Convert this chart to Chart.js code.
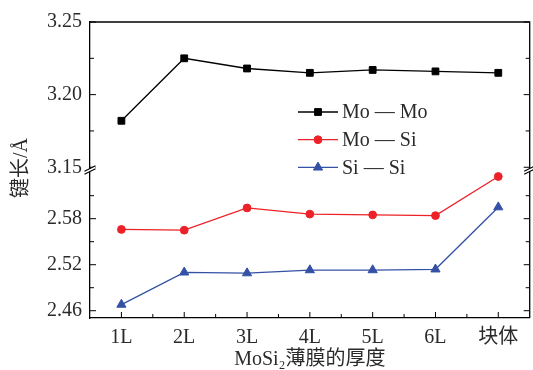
<!DOCTYPE html>
<html>
<head>
<meta charset="utf-8">
<script src="https://cdn.jsdelivr.net/npm/chart.js"></script>
<style>
  html, body { margin: 0; padding: 0; background: #fff; overflow: hidden; }
  #wrap { width: 536px; height: 370px; }
</style>
</head>
<body>
<div id="wrap"><canvas id="bond-chart" width="536" height="370"></canvas></div>
<script>
const categories = ["1L", "2L", "3L", "4L", "5L", "6L", "块体"];
const moMo = [3.182, 3.225, 3.218, 3.215, 3.217, 3.216, 3.215];
const moSi = [2.566, 2.565, 2.594, 2.586, 2.585, 2.584, 2.635];
const siSi = [2.468, 2.510, 2.509, 2.513, 2.513, 2.514, 2.595];
const upperTicks = [3.15, 3.175, 3.20, 3.225, 3.25];
const lowerTicks = [2.46, 2.49, 2.52, 2.55, 2.58, 2.61];

const FONT = '"Liberation Serif", "DejaVu Serif", "Times New Roman", serif, "Noto Sans CJK SC"';
const TEXT = "#2a2a2a";
const tickFont = { family: FONT, size: 20 };

// inward ticks, top/right frame, axis break marks, y title and legend
const framePlugin = {
  id: "frame",
  afterDraw(chart) {
    const { ctx, chartArea: a, scales } = chart;
    ctx.save();
    ctx.strokeStyle = "#000";
    ctx.lineWidth = 1.3;
    ctx.beginPath();
    ctx.moveTo(a.left, a.top);
    ctx.lineTo(a.right, a.top);
    ctx.lineTo(a.right, a.bottom);
    ctx.stroke();

    ctx.lineWidth = 1;
    [scales.yTop, scales.yBot].forEach((s) => {
      s.ticks.forEach((t) => {
        const y = s.getPixelForValue(t.value);
        const len = t.label ? 6 : 4;
        ctx.beginPath();
        ctx.moveTo(a.left, y);
        ctx.lineTo(a.left + len, y);
        ctx.moveTo(a.right, y);
        ctx.lineTo(a.right - len, y);
        ctx.stroke();
      });
    });

    const xs = scales.x;
    for (let i = 0; i < categories.length; i++) {
      const x = xs.getPixelForValue(i);
      ctx.beginPath();
      ctx.moveTo(x, a.bottom);
      ctx.lineTo(x, a.bottom - 6);
      ctx.stroke();
      if (i > 0) {
        const xm = xs.getPixelForValue(i - 0.5);
        ctx.beginPath();
        ctx.moveTo(xm, a.bottom);
        ctx.lineTo(xm, a.bottom - 4);
        ctx.stroke();
      }
    }

    // break marks
    const by = scales.yBot.top + 1;
    [a.left, a.right].forEach((bx) => {
      const g = 1.5;
      ctx.fillStyle = "#fff";
      ctx.beginPath();
      ctx.moveTo(bx - 5.5, by + 2.8 - g);
      ctx.lineTo(bx + 5.5, by - 2.8 - g);
      ctx.lineTo(bx + 5.5, by - 2.8 + g);
      ctx.lineTo(bx - 5.5, by + 2.8 + g);
      ctx.closePath();
      ctx.fill();
      ctx.lineWidth = 1.1;
      ctx.beginPath();
      ctx.moveTo(bx - 5.5, by + 2.8 - g);
      ctx.lineTo(bx + 5.5, by - 2.8 - g);
      ctx.moveTo(bx - 5.5, by + 2.8 + g);
      ctx.lineTo(bx + 5.5, by - 2.8 + g);
      ctx.stroke();
    });

    // y title
    ctx.save();
    ctx.translate(22, 168);
    ctx.rotate(-Math.PI / 2);
    ctx.fillStyle = TEXT;
    ctx.font = "20px " + FONT;
    ctx.textAlign = "center";
    ctx.textBaseline = "middle";
    ctx.fillText("键长/Å", 0, 0);
    ctx.restore();

    // legend
    chart.data.datasets.forEach((ds, i) => {
      const y = 112 + i * 27.7;
      ctx.strokeStyle = ds.borderColor;
      ctx.lineWidth = 1.3;
      ctx.beginPath();
      ctx.moveTo(298, y);
      ctx.lineTo(338, y);
      ctx.stroke();
      ctx.fillStyle = ds.backgroundColor;
      ctx.strokeStyle = ds.backgroundColor;
      ctx.lineWidth = ds.pointBorderWidth;
      Chart.helpers.drawPoint(ctx, { pointStyle: ds.pointStyle, radius: ds.pointRadius, borderWidth: ds.pointBorderWidth, rotation: 0 }, 318, y);
      ctx.fillStyle = TEXT;
      ctx.font = "20px " + FONT;
      ctx.textAlign = "left";
      ctx.textBaseline = "middle";
      ctx.fillText(ds.label, 342, y + 1);
    });
    ctx.restore();
  },
};

const yAxis = (ticksList, min, max, weight) => ({
  type: "linear",
  position: "left",
  stack: "bond",
  stackWeight: weight,
  min: min,
  max: max,
  afterBuildTicks: (s) => {
    s.ticks = ticksList.map((v) => ({ value: v }));
  },
  afterFit: (s) => {
    s.width = 90;
  },
  grid: { display: false, drawTicks: false },
  border: { display: true, color: "#000", width: 1.3 },
  ticks: {
    autoSkip: false,
    padding: 8,
    color: TEXT,
    font: tickFont,
    callback: (v, i) => (i % 2 === 0 ? v.toFixed(2) : ""),
  },
});

new Chart(document.getElementById("bond-chart"), {
  type: "line",
  data: {
    labels: categories,
    datasets: [
      {
        label: "Mo — Mo",
        data: moMo,
        yAxisID: "yTop",
        borderColor: "#000",
        backgroundColor: "#000",
        pointStyle: "rect",
        pointRadius: 4.8,
        pointBorderWidth: 1,
        borderWidth: 1.3,
      },
      {
        label: "Mo — Si",
        data: moSi,
        yAxisID: "yBot",
        borderColor: "#ec2228",
        backgroundColor: "#ec2228",
        pointStyle: "circle",
        pointRadius: 3.9,
        pointBorderWidth: 1,
        borderWidth: 1.3,
      },
      {
        label: "Si — Si",
        data: siSi,
        yAxisID: "yBot",
        borderColor: "#3551a6",
        backgroundColor: "#3551a6",
        pointStyle: "triangle",
        pointRadius: 5.3,
        pointBorderWidth: 1,
        borderWidth: 1.3,
      },
    ],
  },
  options: {
    responsive: false,
    animation: false,
    devicePixelRatio: 1,
    layout: { padding: { top: 22, left: 0, right: 0, bottom: 0 } },
    plugins: { legend: { display: false }, tooltip: { enabled: false } },
    scales: {
      x: {
        type: "category",
        offset: true,
        grid: { display: false, drawTicks: false },
        border: { display: true, color: "#000", width: 1.3 },
        ticks: { autoSkip: false, maxRotation: 0, padding: 8, color: TEXT, font: tickFont },
        title: {
          display: true,
          text: "MoSi₂薄膜的厚度",
          color: TEXT,
          font: { family: FONT, size: 20, lineHeight: 1.0 },
          padding: { top: 0, bottom: 0 },
        },
        afterFit: (s) => {
          s.height = 52;
        },
      },
      // stacked axes are placed bottom-up in the order given
      yBot: yAxis(lowerTicks, 2.4505, 2.6448, 149),
      yTop: yAxis(upperTicks, 3.1488, 3.25, 147),
    },
  },
  plugins: [framePlugin],
});
</script>
</body>
</html>
